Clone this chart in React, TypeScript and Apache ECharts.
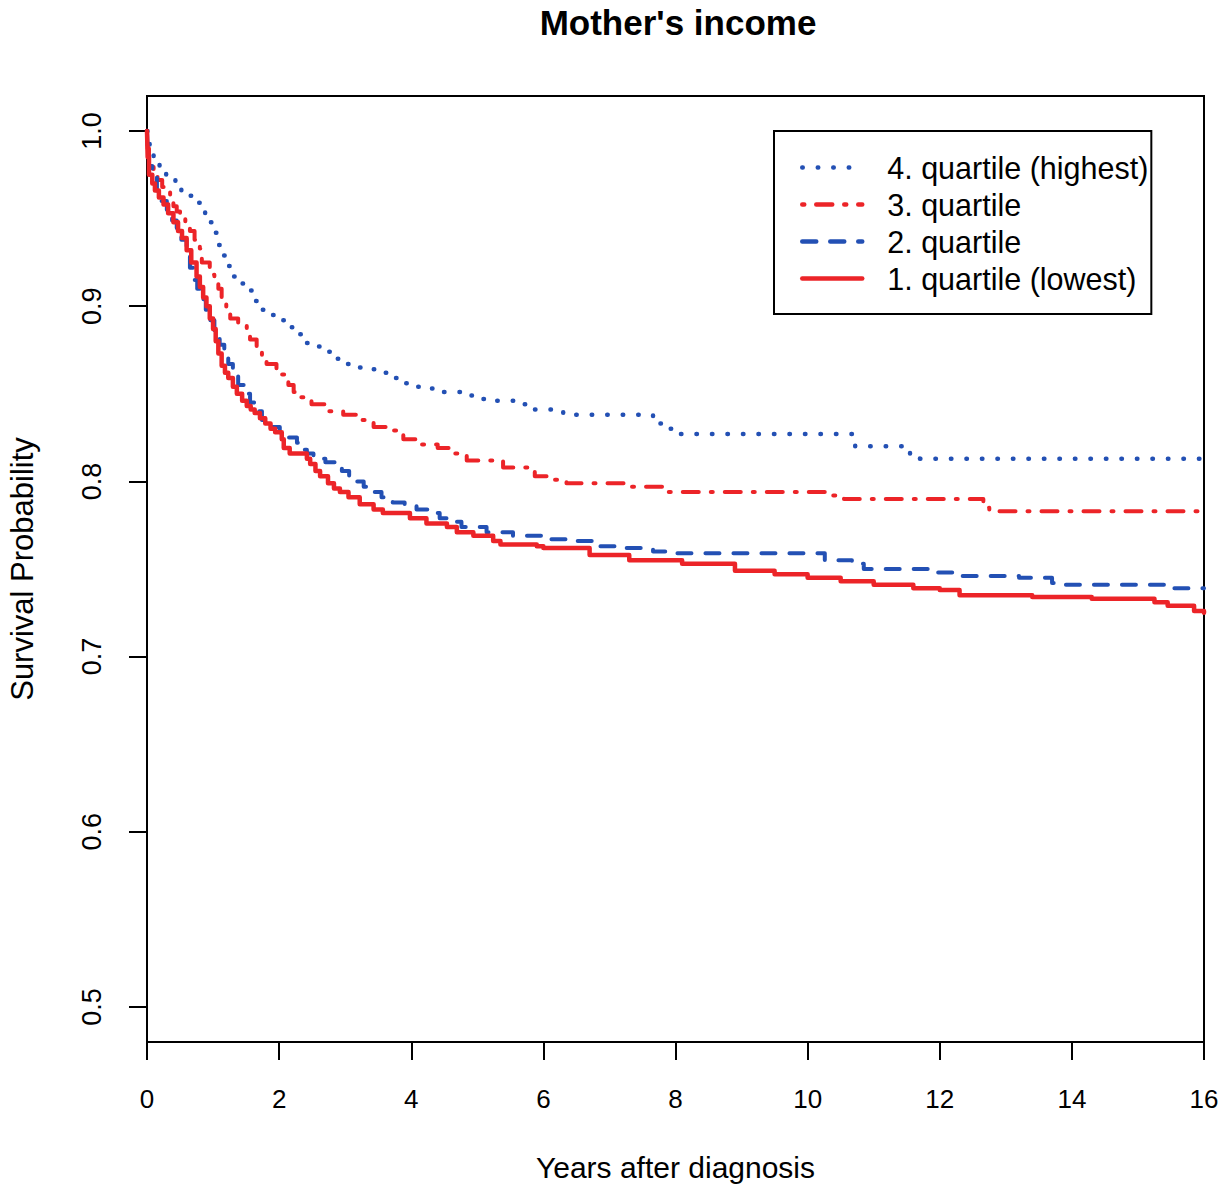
import React, { useEffect, useRef } from "react";
import * as echarts from "echarts";

const titleText = "Mother's income";
const xName = "Years after diagnosis";
const yName = "Survival Probability";
const seriesNames = ["4. quartile (highest)", "3. quartile", "2. quartile", "1. quartile (lowest)"];
const xTicks = [0, 2, 4, 6, 8, 10, 12, 14, 16];
const yTicks = [0.5, 0.6, 0.7, 0.8, 0.9, 1.0];

const q4: [number, number][] = [
  [0, 1], [0.02, 0.995], [0.04, 0.992], [0.1, 0.985], [0.19, 0.98], [0.29, 0.975], [0.43, 0.971], [0.52, 0.966],
  [0.66, 0.963], [0.78, 0.959], [0.88, 0.953], [0.96, 0.948], [1.03, 0.942], [1.08, 0.935], [1.16, 0.929],
  [1.23, 0.923], [1.31, 0.917], [1.43, 0.913], [1.56, 0.909], [1.63, 0.903], [1.74, 0.898], [1.89, 0.895],
  [2.02, 0.892], [2.14, 0.888], [2.29, 0.884], [2.39, 0.879], [2.56, 0.877], [2.69, 0.874], [2.85, 0.87],
  [3.0, 0.867], [3.2, 0.865], [3.38, 0.864], [3.58, 0.862], [3.7, 0.859], [3.83, 0.856], [4.05, 0.854],
  [4.23, 0.853], [4.45, 0.851], [4.75, 0.849], [5.02, 0.847], [5.3, 0.846], [5.62, 0.844], [5.77, 0.841],
  [6.3, 0.838], [7.66, 0.833], [7.8, 0.83], [8.0, 0.827], [10.72, 0.82], [11.55, 0.815], [11.7, 0.813], [16, 0.813],
];
const q3: [number, number][] = [
  [0, 1], [0.01, 0.99], [0.03, 0.983], [0.1, 0.977], [0.16, 0.972], [0.23, 0.968], [0.3, 0.965], [0.35, 0.961],
  [0.4, 0.957], [0.45, 0.954], [0.5, 0.95], [0.58, 0.947], [0.65, 0.943], [0.72, 0.938], [0.8, 0.933],
  [0.83, 0.925], [0.95, 0.918], [1.02, 0.914], [1.08, 0.91], [1.13, 0.903], [1.2, 0.898], [1.26, 0.893],
  [1.38, 0.889], [1.51, 0.887], [1.56, 0.881], [1.66, 0.874], [1.74, 0.87], [1.81, 0.867], [1.96, 0.861],
  [2.14, 0.855], [2.22, 0.851], [2.29, 0.848], [2.49, 0.844], [2.69, 0.84], [2.97, 0.838], [3.2, 0.835],
  [3.43, 0.831], [3.65, 0.829], [3.88, 0.824], [4.13, 0.821], [4.4, 0.819], [4.61, 0.816], [4.84, 0.812],
  [5.39, 0.808], [5.87, 0.803], [6.1, 0.801], [6.35, 0.799], [7.27, 0.797], [7.87, 0.794], [10.3, 0.792],
  [10.55, 0.79], [12.66, 0.785], [12.75, 0.783], [16, 0.783],
];
const q2: [number, number][] = [
  [0, 1], [0.01, 0.99], [0.03, 0.98], [0.08, 0.974], [0.15, 0.966], [0.22, 0.96], [0.3, 0.955], [0.38, 0.949],
  [0.45, 0.944], [0.52, 0.938], [0.6, 0.93], [0.65, 0.922], [0.7, 0.915], [0.76, 0.91], [0.83, 0.904],
  [0.89, 0.898], [0.95, 0.892], [1.02, 0.886], [1.1, 0.878], [1.17, 0.872], [1.23, 0.867], [1.3, 0.861],
  [1.38, 0.855], [1.47, 0.85], [1.56, 0.845], [1.65, 0.84], [1.74, 0.835], [1.87, 0.831], [2.01, 0.828],
  [2.14, 0.825], [2.27, 0.822], [2.32, 0.818], [2.42, 0.816], [2.52, 0.813], [2.7, 0.811], [2.87, 0.808],
  [2.95, 0.806], [3.06, 0.803], [3.17, 0.8], [3.28, 0.797], [3.38, 0.794], [3.55, 0.791], [3.72, 0.788],
  [3.9, 0.786], [4.08, 0.784], [4.25, 0.782], [4.43, 0.779], [4.6, 0.777], [4.76, 0.774], [5.14, 0.771],
  [5.54, 0.769], [6.0, 0.767], [6.4, 0.766], [6.8, 0.763], [7.2, 0.762], [7.66, 0.76], [7.9, 0.759],
  [10.26, 0.755], [10.67, 0.753], [10.85, 0.75], [11.9, 0.748], [12.3, 0.746], [13.2, 0.745], [13.7, 0.742],
  [13.85, 0.741], [15.45, 0.739], [16, 0.739],
];
const q1: [number, number][] = [
  [0, 1], [0.01, 0.985], [0.03, 0.975], [0.08, 0.97], [0.12, 0.966], [0.18, 0.962], [0.25, 0.958], [0.32, 0.953],
  [0.4, 0.948], [0.47, 0.943], [0.53, 0.939], [0.6, 0.932], [0.67, 0.925], [0.75, 0.917], [0.8, 0.911],
  [0.85, 0.905], [0.9, 0.9], [0.95, 0.893], [1.0, 0.887], [1.04, 0.88], [1.08, 0.873], [1.13, 0.866],
  [1.18, 0.862], [1.23, 0.859], [1.3, 0.854], [1.36, 0.85], [1.44, 0.846], [1.51, 0.843], [1.57, 0.841],
  [1.63, 0.839], [1.71, 0.836], [1.79, 0.833], [1.87, 0.83], [1.94, 0.828], [2.04, 0.824], [2.07, 0.819],
  [2.16, 0.816], [2.42, 0.813], [2.47, 0.81], [2.55, 0.806], [2.62, 0.803], [2.74, 0.799], [2.83, 0.796],
  [2.92, 0.794], [3.05, 0.791], [3.22, 0.787], [3.43, 0.784], [3.57, 0.782], [3.98, 0.779], [4.23, 0.776],
  [4.54, 0.774], [4.69, 0.771], [4.94, 0.769], [5.24, 0.766], [5.35, 0.764], [5.9, 0.763], [6.0, 0.762],
  [6.7, 0.758], [7.3, 0.755], [8.1, 0.753], [8.9, 0.749], [9.5, 0.747], [10.0, 0.745], [10.5, 0.743],
  [11.0, 0.741], [11.6, 0.739], [12.0, 0.738], [12.3, 0.735], [13.4, 0.734], [14.3, 0.733], [15.25, 0.731],
  [15.45, 0.729], [15.85, 0.726], [16, 0.725],
];

const BLUE = "#2350b4";
const RED = "#ec2428";
const FONT = "'Liberation Sans', Arial, sans-serif";

export default function App() {
  const ref = useRef<HTMLDivElement>(null);
  useEffect(() => {
    const chart = echarts.init(ref.current!, null, { renderer: "svg" });
    const mk = (name: string, data: [number, number][], color: string, type: any, width: number) => ({
      name,
      type: "line",
      step: "end",
      data,
      symbol: "none",
      lineStyle: { color, type, width, cap: "round", join: "round" },
      itemStyle: { color },
    });
    chart.setOption({
      animation: false,
      backgroundColor: "#fff",
      title: {
        text: titleText,
        left: 673,
        textAlign: "center",
        top: 0,
        textStyle: { fontFamily: FONT, fontSize: 35, fontWeight: "bold", color: "#000" },
      },
      grid: {
        left: 147, top: 96, width: 1057, height: 946,
        show: true, borderColor: "#000", borderWidth: 2, backgroundColor: "transparent",
        outerBoundsMode: "none", containLabel: false,
      },
      legend: {
        orient: "vertical",
        left: 774,
        top: 131,
        data: seriesNames,
        itemWidth: 60,
        itemHeight: 30,
        itemGap: 6,
        padding: [21, 3, 20, 26],
        borderColor: "#000",
        borderWidth: 2,
        itemStyle: { opacity: 0 },
        lineStyle: { width: 4.5, cap: "round" },
        textStyle: { fontFamily: FONT, fontSize: 30.5, color: "#000", padding: [0, 0, 0, 20] },
      },
      xAxis: {
        type: "value",
        min: 0,
        max: 16,
        interval: 2,
        name: xName,
        nameLocation: "middle",
        nameGap: 110,
        nameTextStyle: { fontFamily: FONT, fontSize: 30, color: "#000" },
        axisLine: { show: false },
        axisTick: { show: true, length: 18, lineStyle: { color: "#000", width: 2 } },
        axisLabel: { margin: 44, fontFamily: FONT, fontSize: 26, color: "#000", formatter: (v: number) => (xTicks.includes(v) ? String(v) : "") },
        splitLine: { show: false },
      },
      yAxis: {
        type: "value",
        min: 0.48,
        max: 1.02,
        name: yName,
        nameLocation: "middle",
        nameGap: 109,
        nameTextStyle: { fontFamily: FONT, fontSize: 31, color: "#000" },
        axisLine: { show: false },
        axisTick: { show: true, length: 18, customValues: yTicks, lineStyle: { color: "#000", width: 2 } },
        axisLabel: { rotate: 90, margin: 42, customValues: yTicks, fontFamily: FONT, fontSize: 27, color: "#000", formatter: (v: number) => v.toFixed(1) },
        splitLine: { show: false },
      },
      series: [
        mk(seriesNames[0], q4, BLUE, [0.5, 15], 4.5),
        mk(seriesNames[1], q3, RED, [2, 12, 16, 12], 4),
        mk(seriesNames[2], q2, BLUE, [14, 14], 4),
        mk(seriesNames[3], q1, RED, "solid", 4.5),
      ],
    });
    return () => chart.dispose();
  }, []);
  return <div ref={ref} style={{ position: "absolute", left: 0, top: 0, width: 1222, height: 1187 }} />;
}
